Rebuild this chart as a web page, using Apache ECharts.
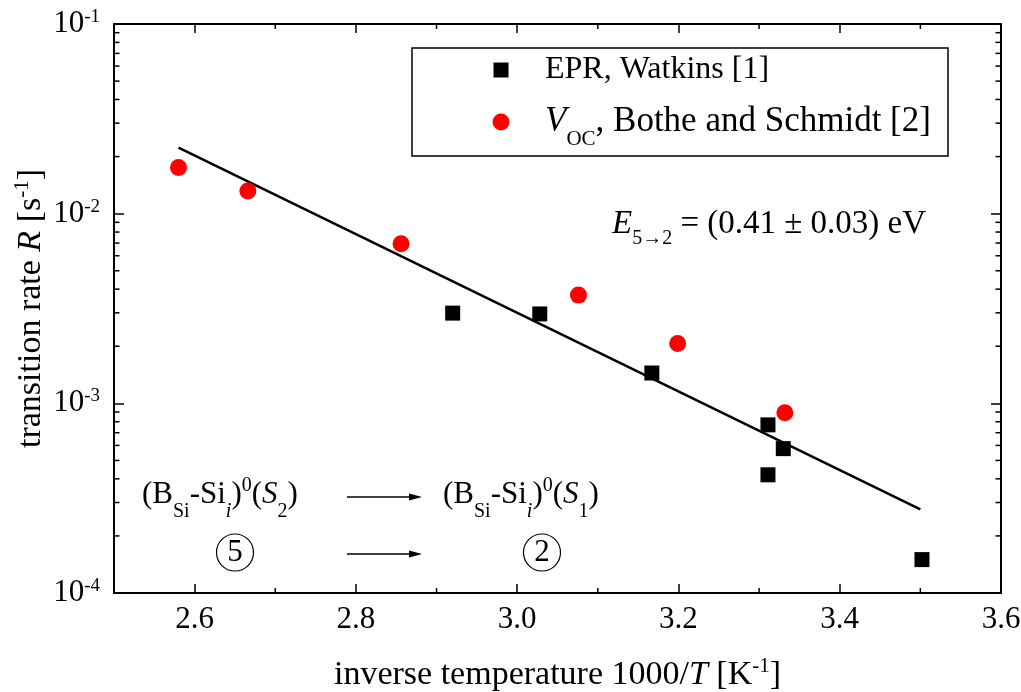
<!DOCTYPE html>
<html>
<head>
<meta charset="utf-8">
<script src="https://cdn.jsdelivr.net/npm/echarts@6/dist/echarts.min.js"></script>
<style>
  html, body { margin: 0; padding: 0; background: #fff; }
  #chart { width: 1021px; height: 692px; }
</style>
</head>
<body>
<div id="chart"></div>
<script>
// Inverse temperature 1000/T [1/K] and transition rate R [1/s]
const eprX = [2.920, 3.028, 3.167, 3.311, 3.330, 3.311, 3.502];
const eprR = [0.00299, 0.00296, 0.001445, 0.00077, 0.000577, 0.00042, 0.000150];
const vocX = [2.580, 2.666, 2.856, 3.076, 3.199, 3.332];
const vocR = [0.0175, 0.01318, 0.00695, 0.00372, 0.002065, 0.000893];
// Arrhenius fit, end points
const fitX = [2.580, 3.500];
const fitR = [0.0223, 0.000276];
// Axis ticks
const xTicks = [2.6, 2.8, 3.0, 3.2, 3.4, 3.6];
const xMinorTicks = [2.7, 2.9, 3.1, 3.3, 3.5];
const yTicks = [1e-4, 1e-3, 1e-2, 1e-1];
const X_MIN = 2.5, X_MAX = 3.6, Y_MIN = 1e-4, Y_MAX = 1e-1;

const SERIF = '"Liberation Serif", "Times New Roman", Times, serif';

// minor ticks of the log axis: 2..9 within each decade
const yMinorTicks = [];
for (let k = 0; k < yTicks.length - 1; k++) {
  for (let m = 2; m <= 9; m++) yMinorTicks.push(m * yTicks[k]);
}

// rich text styles with sub- and superscripts
function richSet(F, S, L, subDrop, supRise, lead) {
  const mid = L / 2;
  const base = { fontFamily: SERIF, color: '#000', lineHeight: L };
  const pl = lead || 0;
  return {
    t: Object.assign({}, base, { fontSize: F, verticalAlign: 'middle' }),
    t0: Object.assign({}, base, { fontSize: F, verticalAlign: 'middle', padding: [0, 0, 0, pl] }),
    i: Object.assign({}, base, { fontSize: F, fontStyle: 'italic', verticalAlign: 'middle' }),
    i0: Object.assign({}, base, { fontSize: F, fontStyle: 'italic', verticalAlign: 'middle', padding: [0, 0, 0, pl] }),
    sub: Object.assign({}, base, { fontSize: S, verticalAlign: 'top', padding: [mid + subDrop - S / 2, 0, 0, 0] }),
    subi: Object.assign({}, base, { fontSize: S, fontStyle: 'italic', verticalAlign: 'top', padding: [mid + subDrop - S / 2, 0, 0, 0] }),
    sup: Object.assign({}, base, { fontSize: S, verticalAlign: 'top', padding: [mid - supRise - S / 2, 0, 0, 0] })
  };
}

const L = 50;
const richMain = richSet(31, 20, L, 17, 9);
const richTitle = richSet(34, 21, L, 17, 9);

const tickLine = { color: '#000', width: 1.5 };
const axisLineStyle = { show: true, onZero: false, lineStyle: { color: '#000', width: 2 } };

function tickSeg(p, dx, dy) {
  return {
    type: 'line',
    shape: { x1: p[0], y1: p[1], x2: p[0] + dx, y2: p[1] + dy },
    style: { stroke: '#000', lineWidth: 1.5 }
  };
}

const chart = echarts.init(document.getElementById('chart'), null, { renderer: 'canvas' });

const option = {
  animation: false,
  backgroundColor: '#fff',
  grid: { left: 114, right: 20, top: 24, bottom: 99, outerBoundsMode: 'none' },
  xAxis: [
    {
      type: 'value', min: X_MIN, max: X_MAX, position: 'bottom',
      axisLine: axisLineStyle,
      axisTick: { show: true, inside: true, length: 9, customValues: xTicks, lineStyle: tickLine },
      axisLabel: {
        customValues: xTicks, formatter: v => v.toFixed(1), margin: 11,
        color: '#000', fontSize: 31, lineHeight: 31, fontFamily: SERIF
      },
      splitLine: { show: false },
      name: '{t|inverse temperature 1000/}{i|T}{t| [K}{sup|-1}{t|]}',
      nameLocation: 'middle', nameGap: 57, nameMoveOverlap: false,
      nameTextStyle: { rich: richTitle }
    },
    {
      type: 'value', min: X_MIN, max: X_MAX, position: 'top',
      axisLine: axisLineStyle,
      axisTick: { show: true, inside: true, length: 9, customValues: xTicks, lineStyle: tickLine },
      axisLabel: { show: false },
      splitLine: { show: false }
    }
  ],
  yAxis: [
    {
      type: 'log', logBase: 10, min: Y_MIN, max: Y_MAX, position: 'left',
      axisLine: axisLineStyle,
      axisTick: { show: true, inside: true, length: 10, lineStyle: tickLine },
      axisLabel: {
        margin: 14,
        formatter: v => '{t|10}{sup|' + Math.round(Math.log10(v)) + '}',
        rich: richSet(31, 19, L, 17, 7)
      },
      splitLine: { show: false },
      name: '{t|transition rate }{i|R}{t| [s}{sup|-1}{t|]}',
      nameLocation: 'middle', nameRotate: 90, nameGap: 58, nameMoveOverlap: false,
      nameTextStyle: { rich: richTitle }
    },
    {
      type: 'log', logBase: 10, min: Y_MIN, max: Y_MAX, position: 'right',
      axisLine: axisLineStyle,
      axisTick: { show: true, inside: true, length: 10, lineStyle: tickLine },
      axisLabel: { show: false },
      splitLine: { show: false }
    }
  ],
  legend: [
    {
      data: ['EPR, Watkins [1]'], left: 493.5, top: 54, padding: 0,
      orient: 'vertical', selectedMode: false,
      itemWidth: 15, itemHeight: 15, itemGap: 0,
      formatter: name => '{t0|' + name + '}',
      textStyle: { rich: richSet(32, 20, L, 17, 9, 31.5) }
    },
    {
      data: ['VOC, Bothe and Schmidt [2]'], left: 492.5, top: 97, padding: 0,
      orient: 'vertical', selectedMode: false,
      itemWidth: 17, itemHeight: 17, itemGap: 0,
      formatter: () => '{i0|V}{sub|OC}{t|, Bothe and Schmidt [2]}',
      textStyle: { rich: richSet(35, 21, L, 17, 9, 30.5) }
    }
  ],
  series: [
    {
      name: 'fit', type: 'line', xAxisIndex: 0, yAxisIndex: 0,
      data: fitX.map((x, i) => [x, fitR[i]]),
      showSymbol: false, symbol: 'none', silent: true,
      lineStyle: { color: '#000', width: 2.5 }, z: 2
    },
    {
      name: 'EPR, Watkins [1]', type: 'scatter',
      data: eprX.map((x, i) => [x, eprR[i]]),
      symbol: 'rect', symbolSize: 15,
      itemStyle: { color: '#000', opacity: 1 }, z: 3
    },
    {
      name: 'VOC, Bothe and Schmidt [2]', type: 'scatter',
      data: vocX.map((x, i) => [x, vocR[i]]),
      symbol: 'circle', symbolSize: 17,
      itemStyle: { color: '#ff0000', opacity: 1 }, z: 3
    },
    {
      // minor ticks of the x axes (bottom and top)
      name: 'xMinor', type: 'custom', silent: true, clip: false, z: 4,
      data: xMinorTicks.map(v => [v, Y_MIN]),
      renderItem: (params, api) => {
        const v = api.value(0);
        const pb = api.coord([v, Y_MIN]);
        const pt = api.coord([v, Y_MAX]);
        return { type: 'group', children: [tickSeg(pb, 0, -5), tickSeg(pt, 0, 5)] };
      }
    },
    {
      // minor ticks of the log y axes (left and right)
      name: 'yMinor', type: 'custom', silent: true, clip: false, z: 4,
      data: yMinorTicks.map(v => [X_MIN, v]),
      renderItem: (params, api) => {
        const v = api.value(1);
        const pl = api.coord([X_MIN, v]);
        const pr = api.coord([X_MAX, v]);
        return { type: 'group', children: [tickSeg(pl, 5.5, 0), tickSeg(pr, -5.5, 0)] };
      }
    }
  ],
  graphic: [
    {
      type: 'rect', z: 10,
      shape: { x: 412, y: 48, width: 536, height: 108 },
      style: { fill: 'none', stroke: '#000', lineWidth: 1.5 }
    },
    {
      type: 'text', x: 612, y: 224, z: 10,
      style: {
        text: '{i|E}{sub|5→2}{t| = (0.41 ± 0.03) eV}',
        rich: richSet(33, 20, L, 15, 9), verticalAlign: 'middle', align: 'left'
      }
    },
    {
      type: 'text', x: 142, y: 494.5, z: 10,
      style: {
        text: '{t|(B}{sub|Si}{t|-Si}{subi|i}{t|)}{sup|0}{t|(}{i|S}{sub|2}{t|)}',
        rich: richMain, verticalAlign: 'middle', align: 'left'
      }
    },
    {
      type: 'text', x: 443, y: 494.5, z: 10,
      style: {
        text: '{t|(B}{sub|Si}{t|-Si}{subi|i}{t|)}{sup|0}{t|(}{i|S}{sub|1}{t|)}',
        rich: richMain, verticalAlign: 'middle', align: 'left'
      }
    },
    // transition arrows
    { type: 'line', z: 10, shape: { x1: 347, y1: 497, x2: 412, y2: 497 }, style: { stroke: '#000', lineWidth: 1.3 } },
    { type: 'polygon', z: 10, shape: { points: [[422, 497], [409, 493.5], [409, 500.5]] }, style: { fill: '#000' } },
    { type: 'line', z: 10, shape: { x1: 347, y1: 554, x2: 412, y2: 554 }, style: { stroke: '#000', lineWidth: 1.3 } },
    { type: 'polygon', z: 10, shape: { points: [[422, 554], [409, 550.5], [409, 557.5]] }, style: { fill: '#000' } },
    // circled configuration numbers
    { type: 'circle', z: 10, shape: { cx: 235, cy: 552.5, r: 18.5 }, style: { fill: 'none', stroke: '#000', lineWidth: 1.2 } },
    {
      type: 'text', x: 235, y: 553, z: 10,
      style: { text: '5', fontSize: 31, fontFamily: SERIF, fill: '#000', align: 'center', verticalAlign: 'middle' }
    },
    { type: 'circle', z: 10, shape: { cx: 542, cy: 552.5, r: 18.5 }, style: { fill: 'none', stroke: '#000', lineWidth: 1.2 } },
    {
      type: 'text', x: 542, y: 553, z: 10,
      style: { text: '2', fontSize: 31, fontFamily: SERIF, fill: '#000', align: 'center', verticalAlign: 'middle' }
    }
  ]
};

chart.setOption(option);
</script>
</body>
</html>
